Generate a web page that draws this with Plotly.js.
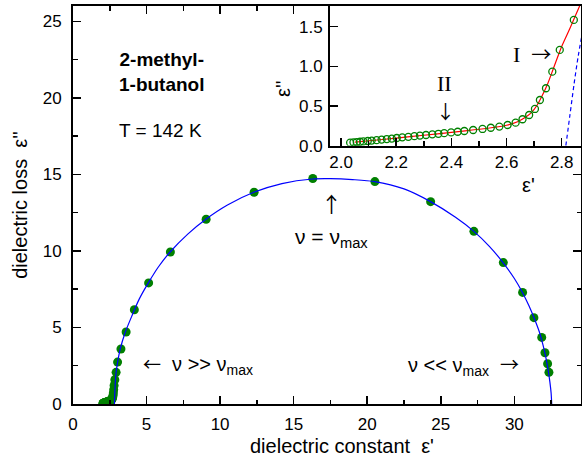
<!DOCTYPE html>
<html>
<head>
<meta charset="utf-8">
<script src="https://cdn.plot.ly/plotly-3.0.1.min.js"></script>
<style>html,body{margin:0;padding:0;background:#fff;}#chart{width:582px;height:464px;}</style>
</head>
<body>
<div id="chart"></div>
<script>
// ---- data ----
// low-eps' part of the data (shown in inset as open circles, and in the main plot)
const lowEps1 = [2.033, 2.045, 2.057, 2.069, 2.081, 2.097, 2.111, 2.129, 2.147, 2.166, 2.184, 2.202, 2.222, 2.244, 2.266, 2.286, 2.308, 2.331, 2.353, 2.374, 2.399, 2.423, 2.447, 2.479, 2.513, 2.543, 2.574, 2.604, 2.633, 2.658, 2.682, 2.703, 2.721, 2.743, 2.766, 2.793, 2.844];
const lowEps2 = [0.038, 0.042, 0.046, 0.050, 0.054, 0.059, 0.064, 0.070, 0.077, 0.084, 0.090, 0.097, 0.105, 0.112, 0.120, 0.127, 0.135, 0.143, 0.150, 0.158, 0.167, 0.176, 0.185, 0.198, 0.211, 0.226, 0.241, 0.261, 0.290, 0.333, 0.387, 0.463, 0.576, 0.724, 0.933, 1.207, 1.585];
// remaining data points of the main arc
const highEps1 = [2.93, 3.03, 3.26, 3.61, 4.17, 5.14, 6.62, 9.05, 12.31, 16.30, 20.52, 24.31, 27.25, 29.25, 30.56, 31.33, 31.86, 32.08, 32.26, 32.35];
const highEps2 = [2.07, 2.74, 3.59, 4.70, 6.16, 7.91, 9.93, 12.07, 13.83, 14.73, 14.53, 13.22, 11.28, 9.24, 7.29, 5.64, 4.35, 3.35, 2.63, 2.07];
// blue fit curve (main process)
const alphaFitEps1 = [2.815, 2.83, 2.845, 2.86, 2.88, 2.92, 3.02, 3.2, 3.54, 4.0, 4.5, 5.12, 5.8, 6.6, 7.8, 9.03, 10.5, 12.29, 14.2, 16.28, 17.5, 19, 20.5, 22.5, 24.3, 26, 27.25, 28.3, 29.23, 30, 30.55, 31.0, 31.35, 31.7, 31.95, 32.15, 32.3, 32.42, 32.5, 32.54];
const alphaFitEps2 = [0, 0.39, 0.78, 1.13, 1.5, 1.98, 2.65, 3.55, 4.65, 5.75, 6.85, 7.91, 8.95, 9.93, 11.1, 12.07, 13.0, 13.83, 14.4, 14.7, 14.72, 14.66, 14.53, 14.05, 13.22, 12.2, 11.28, 10.3, 9.24, 8.2, 7.29, 6.4, 5.6, 4.7, 3.85, 3.0, 2.2, 1.4, 0.7, 0];
// red fit curve (inset)
const insetFitEps1 = [2.05, 2.15, 2.25, 2.35, 2.45, 2.55, 2.60, 2.64, 2.67, 2.69, 2.71, 2.73, 2.75, 2.77, 2.80, 2.83, 2.87];
const insetFitEps2 = [0.045, 0.078, 0.114, 0.149, 0.186, 0.229, 0.258, 0.302, 0.36, 0.416, 0.507, 0.636, 0.788, 0.973, 1.25, 1.48, 1.80];
// tick labels
const mainXTicks = [0, 5, 10, 15, 20, 25, 30];
const mainYTicks = [0, 5, 10, 15, 20, 25];
const insetXTicks = [2.0, 2.2, 2.4, 2.6, 2.8];
const insetYTicks = [0.0, 0.5, 1.0, 1.5];

// ---- styling ----
const SANS = 'Liberation Sans, Arial, Helvetica, sans-serif';
const SERIF = 'Liberation Serif, Times New Roman, serif';
const GREEN = 'rgb(0,128,0)';
const L = 73, R = 581, T = 6, B = 404;
const px = x => (x - L) / (R - L);
const py = y => (B - y) / (B - T);
const arrow = (a, s) => '<span style="font-family:Noto Sans CJK JP;font-size:' + s + 'px">' + a + '</span>';

const traces = [
  { x: lowEps1.concat(highEps1), y: lowEps2.concat(highEps2), type: 'scatter', mode: 'markers',
    marker: { color: GREEN, size: 9 }, xaxis: 'x', yaxis: 'y', hoverinfo: 'skip' },
  { x: alphaFitEps1, y: alphaFitEps2, type: 'scatter', mode: 'lines',
    line: { color: 'rgb(0,0,255)', width: 1.2, shape: 'spline', smoothing: 0.8 }, xaxis: 'x', yaxis: 'y', hoverinfo: 'skip' },
  { x: insetFitEps1, y: insetFitEps2, type: 'scatter', mode: 'lines',
    line: { color: 'rgb(255,0,0)', width: 1.2, shape: 'spline', smoothing: 0.8 }, xaxis: 'x2', yaxis: 'y2', hoverinfo: 'skip' },
  { x: alphaFitEps1, y: alphaFitEps2, type: 'scatter', mode: 'lines',
    line: { color: 'rgb(0,0,255)', width: 1.2, dash: '4px,3px', shape: 'spline', smoothing: 0.8 }, xaxis: 'x2', yaxis: 'y2', hoverinfo: 'skip' },
  { x: lowEps1, y: lowEps2, type: 'scatter', mode: 'markers',
    marker: { symbol: 'circle-open', color: GREEN, size: 7, line: { width: 1.3, color: GREEN } }, xaxis: 'x2', yaxis: 'y2', hoverinfo: 'skip' }
];

const axCommon = {
  showline: true, linecolor: 'black', linewidth: 2, ticks: 'inside', tickcolor: 'black',
  tickwidth: 1.5, ticklen: 8, showgrid: false, zeroline: false,
  tickfont: { family: SANS, size: 17, color: 'black' }
};

function ann(text, x, y, size, extra) {
  return Object.assign({ text: text, xref: 'paper', yref: 'paper', x: px(x), y: py(y),
    xanchor: 'center', yanchor: 'middle', showarrow: false,
    font: { family: SANS, size: size, color: 'black' } }, extra || {});
}

const layout = {
  width: 582, height: 464,
  margin: { l: L, r: 582 - R, t: T, b: 464 - B, pad: 0 },
  paper_bgcolor: 'white', plot_bgcolor: 'white', showlegend: false,
  xaxis: Object.assign({}, axCommon, {
    domain: [0, 1], anchor: 'y', range: [0, 34.53], mirror: 'ticks',
    tickvals: mainXTicks, ticktext: mainXTicks.map(String), ticklabelstandoff: 4,
    minor: { dtick: 2.5, tick0: 0, ticks: 'inside', ticklen: 4.5, tickwidth: 1.5, tickcolor: 'black' }
  }),
  yaxis: Object.assign({}, axCommon, {
    domain: [0, 1], anchor: 'x', range: [0, 26], mirror: 'ticks',
    tickvals: mainYTicks, ticktext: mainYTicks.map(String), ticklabelstandoff: 6,
    minor: { dtick: 2.5, tick0: 0, ticks: 'inside', ticklen: 4.5, tickwidth: 1.5, tickcolor: 'black' },
    title: { text: "dielectric loss\u00a0\u00a0ε''", font: { family: SANS, size: 20, color: 'black' }, standoff: 10 }
  }),
  xaxis2: Object.assign({}, axCommon, {
    domain: [px(330), 1], anchor: 'y2', range: [1.96, 2.87], mirror: false,
    tickvals: insetXTicks, ticktext: insetXTicks.map(v => v.toFixed(1)), ticklabelstandoff: 0,
    minor: { dtick: 0.1, tick0: 2.0, ticks: 'inside', ticklen: 4.5, tickwidth: 1.5, tickcolor: 'black' }
  }),
  yaxis2: Object.assign({}, axCommon, {
    domain: [py(145.7), 1], anchor: 'x2', range: [0, 1.76], mirror: false,
    tickvals: insetYTicks, ticktext: insetYTicks.map(v => v.toFixed(1)), ticklabelstandoff: 2
  }),
  annotations: [
    ann("dielectric constant\u00a0\u00a0ε'", 342, 446, 20),
    ann('<b>2-methyl-</b><br><b>1-butanol</b>', 162, 72, 19),
    ann('T = 142 K', 160.5, 130, 19),
    ann(arrow('↑', 21), 331, 203, 20),
    ann('ν = ν<sub>max</sub>', 331, 238, 21),
    ann(arrow('←', 18) + '\u00a0\u00a0ν >> ν<sub>max</sub>', 141, 364, 20, { xanchor: 'left' }),
    ann('ν << ν<sub>max</sub>\u00a0\u00a0' + arrow('→', 19), 521, 364, 20, { xanchor: 'right' }),
    ann('II', 444.7, 84, 22, { font: { family: SERIF, size: 22, color: 'black' } }),
    ann(arrow('↓', 19), 445, 111, 20),
    ann('I\u00a0\u00a0' + arrow('→', 20), 532, 54, 22, { font: { family: SERIF, size: 22, color: 'black' } }),
    ann("ε''", 283, 89, 20, { textangle: -90 }),
    ann("ε'", 528, 185, 20)
  ]
};

Plotly.newPlot('chart', traces, layout, { staticPlot: true, displayModeBar: false });
</script>
</body>
</html>
